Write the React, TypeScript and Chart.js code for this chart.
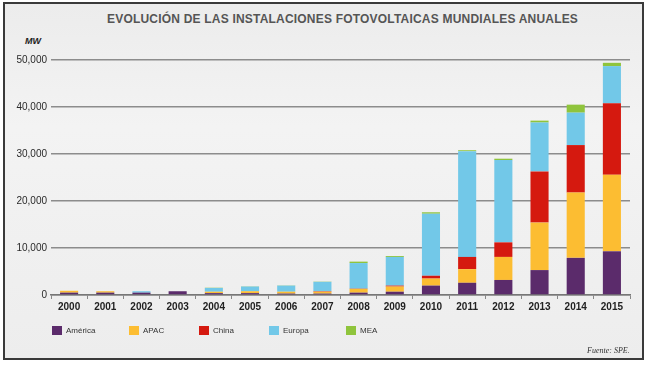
import React, { useEffect, useRef } from "react";
import { Chart, registerables } from "chart.js";

Chart.register(...registerables);

const years = ["2000","2001","2002","2003","2004","2005","2006","2007","2008","2009","2010","2011","2012","2013","2014","2015"];
const america = [500, 500, 500, 800, 400, 400, 300, 300, 500, 700, 2000, 2600, 3200, 5300, 7900, 9300];
const apac = [400, 300, 0, 0, 300, 400, 400, 400, 800, 1100, 1500, 2900, 4900, 10100, 13900, 16300];
const china = [0, 0, 0, 0, 0, 0, 0, 100, 50, 200, 600, 2600, 3100, 10900, 10100, 15200];
const europe = [0, 0, 300, 0, 800, 1000, 1300, 2000, 5450, 6100, 13200, 22500, 17500, 10400, 6900, 7900];
const mea = [0, 0, 0, 0, 50, 50, 50, 50, 300, 200, 300, 200, 300, 400, 1700, 700];
const yTicks = [0, 10000, 20000, 30000, 40000, 50000];

const seriesNames = ["América", "APAC", "China", "Europa", "MEA"];
const seriesColors = ["#5b2b6b", "#fcbd32", "#d5190f", "#72c8e8", "#8fc43c"];
const seriesData = [america, apac, china, europe, mea];
const legendX = [52, 129, 199, 269, 346];

export default function App() {
  const ref = useRef<HTMLCanvasElement>(null);
  useEffect(() => {
    if (!ref.current) return;
    const chart = new Chart(ref.current, {
      type: "bar",
      data: {
        labels: years,
        datasets: seriesData.map((d, i) => ({
          label: seriesNames[i],
          data: d,
          backgroundColor: seriesColors[i],
          borderWidth: 0,
          barPercentage: 0.5,
          categoryPercentage: 1,
        })),
      },
      options: {
        responsive: false,
        animation: false,
        layout: { padding: { left: 0, right: 20, top: 60, bottom: 52 } },
        plugins: { legend: { display: false }, tooltip: { enabled: false }, title: { display: false } },
        scales: {
          x: {
            stacked: true,
            offset: true,
            grid: { display: true, offset: true, drawOnChartArea: false, tickLength: 4, color: "#888", lineWidth: 1 },
            border: { display: true, color: "#777", width: 1.5 },
            ticks: { font: { family: "Liberation Sans", size: 10, weight: "bold" }, color: "#222", padding: 2, maxRotation: 0, autoSkip: false },
            afterFit: (s: any) => { s.height = 20; },
          },
          y: {
            stacked: true,
            min: 0,
            max: 50000,
            afterBuildTicks: (s: any) => { s.ticks = yTicks.map((v) => ({ value: v })); },
            grid: { color: "#8c8c8c", lineWidth: 1.5, drawTicks: false },
            border: { display: false },
            ticks: {
              font: { family: "Liberation Sans", size: 10 },
              color: "#2a2a2a",
              padding: 4,
              callback: (v: any) => Number(v).toLocaleString("en-US"),
            },
            afterFit: (s: any) => { s.width = 51; },
          },
        },
      },
    });
    return () => chart.destroy();
  }, []);

  return (
    <div style={{ position: "absolute", left: 0, top: 0, width: 650, height: 367, background: "#fff", overflow: "hidden" }}>
      <div
        style={{
          position: "absolute",
          left: 3,
          top: 2,
          width: 637,
          height: 354,
          border: "2px solid #3a3a3a",
          background: "linear-gradient(180deg, #ececec 0%, #f3f3f3 35%, #ededed 100%)",
        }}
      />
      <div
        style={{
          position: "absolute",
          left: 107,
          top: 12,
          whiteSpace: "nowrap",
          font: "bold 12px 'Liberation Sans', Arial, sans-serif",
          letterSpacing: "0.2px",
          color: "#555",
        }}
      >
        EVOLUCIÓN DE LAS INSTALACIONES FOTOVOLTAICAS MUNDIALES ANUALES
      </div>
      <div
        style={{
          position: "absolute",
          left: 25,
          top: 36,
          font: "italic bold 9px 'Liberation Sans', Arial, sans-serif",
          color: "#222",
        }}
      >
        MW
      </div>
      <canvas ref={ref} width={650} height={367} style={{ position: "absolute", left: 0, top: 0 }} />
      {seriesNames.map((n, i) => (
        <div key={n} style={{ position: "absolute", left: legendX[i], top: 326, display: "flex", alignItems: "center" }}>
          <div style={{ width: 10, height: 9, background: seriesColors[i], marginRight: 4 }} />
          <span style={{ font: "8px 'Liberation Sans', Arial, sans-serif", color: "#333" }}>{n}</span>
        </div>
      ))}
      <div
        style={{
          position: "absolute",
          left: 587,
          top: 346,
          font: "italic 8px 'Liberation Serif', 'Times New Roman', serif",
          color: "#333",
        }}
      >
        Fuente: SPE.
      </div>
    </div>
  );
}
